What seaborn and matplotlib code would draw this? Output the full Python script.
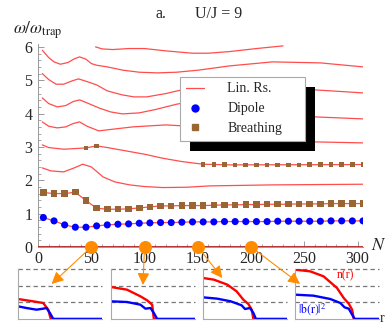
import numpy as np
import pandas as pd
import matplotlib
matplotlib.use('Agg')
import matplotlib.pyplot as plt
import matplotlib.patheffects as pe
from matplotlib.lines import Line2D
from matplotlib.patches import ConnectionPatch
from matplotlib.ticker import MultipleLocator
import seaborn as sns

# Линейный отклик: кривые (N, omega/omega_trap)
top_N = [54, 60, 70, 85, 100, 120, 145, 160, 180, 205, 230]
top_w = [6.0, 5.94, 5.92, 5.95, 5.95, 5.88, 5.81, 5.81, 5.86, 5.95, 6.03]

a_N = [4, 10, 15, 21, 28, 34, 39, 45, 50, 55, 65, 80, 95, 112, 130, 150, 180, 220, 265, 305]
a_w = [5.9, 5.68, 5.55, 5.48, 5.53, 5.64, 5.70, 5.63, 5.5, 5.45, 5.4, 5.3, 5.24, 5.22, 5.24, 5.3, 5.43, 5.55, 5.52, 5.4]

b_N = [4, 10, 17, 24, 32, 38, 45, 55, 65, 79, 90, 102, 120, 140, 155, 180, 210, 240, 260, 305]
b_w = [5.2, 5.02, 4.88, 4.88, 4.98, 5.04, 4.97, 4.86, 4.68, 4.56, 4.5, 4.5, 4.6, 4.75, 4.86, 4.92, 4.85, 4.76, 4.71, 4.62]

c_N = [4, 10, 18, 26, 33, 39, 46, 57, 68, 79, 95, 110, 130, 152, 175, 200, 230, 260, 305]
c_w = [4.47, 4.3, 4.2, 4.24, 4.36, 4.41, 4.32, 4.17, 4.05, 3.99, 4.02, 4.12, 4.28, 4.41, 4.45, 4.3, 4.05, 3.9, 3.84]

d_N = [4, 10, 18, 26, 33, 39, 46, 57, 70, 89, 120, 152, 180, 220, 260, 305]
d_w = [3.75, 3.62, 3.57, 3.6, 3.7, 3.75, 3.62, 3.48, 3.53, 3.6, 3.66, 3.6, 3.45, 3.25, 3.15, 3.12]

e_N = [4, 10, 24, 35, 45, 55, 65, 86, 100, 117, 135, 155, 180, 305]
e_w = [3.06, 2.98, 2.93, 2.95, 2.97, 3.03, 2.98, 2.86, 2.78, 2.66, 2.56, 2.48, 2.46, 2.47]

f_N = [4, 12, 24, 34, 42, 50, 61, 72, 86, 100, 117, 140, 161, 220, 305]
f_w = [2.37, 2.28, 2.25, 2.37, 2.48, 2.4, 2.1, 1.95, 1.86, 1.81, 1.78, 1.79, 1.83, 1.86, 1.88]

# Дипольная и дышащая моды
pts_N = list(range(5, 306, 10))
dipole = [0.88, 0.78, 0.66, 0.59, 0.59, 0.63, 0.66, 0.68, 0.69, 0.71, 0.72, 0.73, 0.73,
          0.74, 0.75, 0.75, 0.75, 0.76, 0.76, 0.76, 0.76, 0.76, 0.77, 0.77, 0.77, 0.77,
          0.77, 0.78, 0.78, 0.78, 0.78]
breath_lo = [1.63, 1.6, 1.6, 1.64, 1.39, 1.16, 1.13, 1.13, 1.14, 1.17, 1.2, 1.23, 1.23,
             1.24, 1.24, 1.24, 1.25, 1.26, 1.26, 1.27, 1.27, 1.28, 1.28, 1.28, 1.29, 1.29,
             1.29, 1.3, 1.3, 1.3, 1.3]
breath_hi_N = [45, 55] + list(range(155, 306, 10))
breath_hi = [2.97, 3.03] + [2.48, 2.47, 2.47, 2.46, 2.46, 2.46, 2.46, 2.46, 2.46, 2.46,
                            2.47, 2.47, 2.47, 2.47, 2.47, 2.47]

zero_N = [0, 305]
zero_w = [0, 0]
marked_N = [50, 100, 150, 200]

# Профили плотности n(r) и |b(r)|^2 для N = 50, 100, 150, 200
r1 = [0, 0.18, 0.30, 0.36, 0.39, 1.0]
n1 = [1.2, 1.06, 0.96, 0.56, 0.0, 0.0]
rb1 = [0, 0.10, 0.22, 0.30, 0.34, 0.38, 0.42, 1.0]
b1 = [0.76, 0.66, 0.56, 0.62, 0.66, 0.36, 0.0, 0.0]

r2 = [0, 0.19, 0.35, 0.43, 0.49, 0.51, 1.0]
n2 = [1.92, 1.76, 1.36, 1.12, 0.86, 0.0, 0.0]
rb2 = [0, 0.19, 0.35, 0.41, 0.47, 0.51, 0.55, 1.0]
b2 = [1.06, 1.02, 0.86, 0.62, 0.66, 0.36, 0.0, 0.0]

r3 = [0, 0.13, 0.29, 0.40, 0.48, 0.54, 0.58, 0.60, 1.0]
n3 = [2.46, 2.36, 2.06, 1.66, 1.16, 0.9, 0.56, 0.0, 0.0]
rb3 = [0, 0.17, 0.33, 0.46, 0.50, 0.56, 0.60, 0.63, 1.0]
b3 = [1.3, 1.22, 1.06, 0.82, 0.6, 0.66, 0.36, 0.0, 0.0]

r4 = [0, 0.18, 0.34, 0.50, 0.58, 0.64, 0.68, 0.70, 1.0]
n4 = [2.96, 2.86, 2.56, 1.86, 1.26, 0.92, 0.56, 0.0, 0.0]
rb4 = [0, 0.22, 0.42, 0.54, 0.59, 0.64, 0.68, 0.71, 1.0]
b4 = [1.46, 1.4, 1.2, 0.96, 0.7, 0.62, 0.26, 0.0, 0.0]

profiles = [(r1, n1, rb1, b1), (r2, n2, rb2, b2), (r3, n3, rb3, b3), (r4, n4, rb4, b4)]

sns.set_style('ticks')
plt.rcParams['font.family'] = ['Liberation Serif', 'DejaVu Serif']
plt.rcParams['mathtext.fontset'] = 'stix'

RED = '#ff4d4d'
BLUE = '#0000ff'
BROWN = '#996633'
ORANGE = '#ff8c00'
GRAY = '#999999'

fig = plt.figure(figsize=(3.92, 3.35), dpi=100)
ax = fig.add_axes([0.097, 0.263, 0.829, 0.607])

for xs, ys in [(top_N, top_w), (a_N, a_w), (b_N, b_w), (c_N, c_w), (d_N, d_w),
               (e_N, e_w), (f_N, f_w), (pts_N, breath_lo), (pts_N, dipole)]:
    sns.lineplot(x=xs, y=ys, ax=ax, color=RED, lw=0.9, sort=False, estimator=None, legend=False)

sns.lineplot(x=zero_N, y=zero_w, ax=ax, color='#b22222', lw=1.3, legend=False, zorder=3)

sns.scatterplot(x=pts_N, y=dipole, ax=ax, color=BLUE, s=26, edgecolor='none', zorder=4, legend=False)
sns.scatterplot(x=pts_N, y=breath_lo, ax=ax, color=BROWN, marker='s', s=22, edgecolor='none', zorder=4, legend=False)
sns.scatterplot(x=breath_hi_N, y=breath_hi, ax=ax, color=BROWN, marker='s', s=11, edgecolor='none', zorder=4, legend=False)
ax.scatter(marked_N, [0] * len(marked_N), s=70, color=ORANGE, zorder=6, clip_on=False)

ax.set_xlim(0, 305)
ax.set_ylim(0, 6.1)
ax.xaxis.set_major_locator(MultipleLocator(50))
ax.xaxis.set_minor_locator(MultipleLocator(10))
ax.yaxis.set_major_locator(MultipleLocator(1))
ax.yaxis.set_minor_locator(MultipleLocator(0.2))
ax.tick_params(which='both', direction='in', color=GRAY, labelsize=11.5)
ax.tick_params(which='major', length=4, width=0.7)
ax.tick_params(which='minor', length=2, width=0.6)
ax.tick_params(axis='x', pad=3)
ax.tick_params(axis='y', pad=4)
sns.despine(ax=ax)
for s in ['left', 'bottom']:
    ax.spines[s].set_color(GRAY)
    ax.spines[s].set_linewidth(0.7)
ax.set_xlabel('')
ax.set_ylabel('')

handles = [Line2D([], [], color=RED, lw=0.9),
           Line2D([], [], color=BLUE, marker='o', ls='none', ms=5),
           Line2D([], [], color=BROWN, marker='s', ls='none', ms=4)]
leg = ax.legend(handles, ['Lin. Rs.', 'Dipole', 'Breathing'], loc='upper left',
                bbox_to_anchor=(0.437, 0.636, 0.385, 0.2), mode='expand', borderaxespad=0,
                fontsize=10, handlelength=1.3, handletextpad=1.7, labelspacing=0.5,
                borderpad=0.4, fancybox=False, framealpha=1, edgecolor='#aaaaaa')
leg.get_frame().set_linewidth(0.8)
leg.get_frame().set_path_effects([pe.withSimplePatchShadow(offset=(7.2, -7.2),
                                                           shadow_rgbFace='black', alpha=1.0)])
leg.set_zorder(7)

fig.text(155 / 392, 1 - 14 / 335, 'a.', fontsize=11.5, va='center', ha='left')
fig.text(195 / 392, 1 - 14 / 335, 'U/J = 9', fontsize=11.5, va='center', ha='left')
fig.text(13 / 392, 1 - 30 / 335, r'$\omega/\omega_{\rm trap}$', fontsize=12.5, va='center', ha='left')
fig.text(371 / 392, 1 - 245 / 335, r'$N$', fontsize=13, va='center', ha='left')

ins_left = [18, 111, 203, 295]
tips = [(0.40, 0.70), (0.38, 0.68), (0.23, 0.82), (0.06, 0.70)]
for i, (rn, nn, rb, bb) in enumerate(profiles):
    ia = fig.add_axes([ins_left[i] / 392, 16 / 335, 84 / 392, 50 / 335])
    for yv in [1, 2, 3]:
        ia.axhline(yv, color='#777777', lw=0.9, ls=(0, (3.5, 2.5)), clip_on=False)
    sns.lineplot(x=rn, y=nn, ax=ia, color='#ff0000', lw=1.7, sort=False, estimator=None, legend=False)
    sns.lineplot(x=rb, y=bb, ax=ia, color=BLUE, lw=1.7, sort=False, estimator=None, legend=False)
    ia.set_xlim(0, 1)
    ia.set_ylim(0, 3)
    ia.set_xticks([])
    ia.set_yticks([])
    ia.set_xlabel('')
    ia.set_ylabel('')
    sns.despine(ax=ia)
    for s in ['left', 'bottom']:
        ia.spines[s].set_color('#aaaaaa')
        ia.spines[s].set_linewidth(0.8)
    ia.patch.set_alpha(0)
    con = ConnectionPatch(xyA=(marked_N[i], 0), coordsA=ax.transData,
                          xyB=tips[i], coordsB=ia.transAxes,
                          arrowstyle='-|>,head_length=0.6,head_width=0.3',
                          mutation_scale=12, color=ORANGE, lw=0.8, shrinkA=4, shrinkB=0)
    fig.add_artist(con)
    if i == 3:
        ia.text(0.50, 2.6, 'n(r)', color='#ff0000', fontsize=8.5, ha='left', va='center')
        ia.text(0.04, 0.6, r'$|\mathrm{b(r)}|^2$', color=BLUE, fontsize=8.5, ha='left', va='center')

fig.text(380 / 392, 1 - 318 / 335, 'r', fontsize=10, va='center', ha='left')

fig.savefig('out.png', dpi=100)
